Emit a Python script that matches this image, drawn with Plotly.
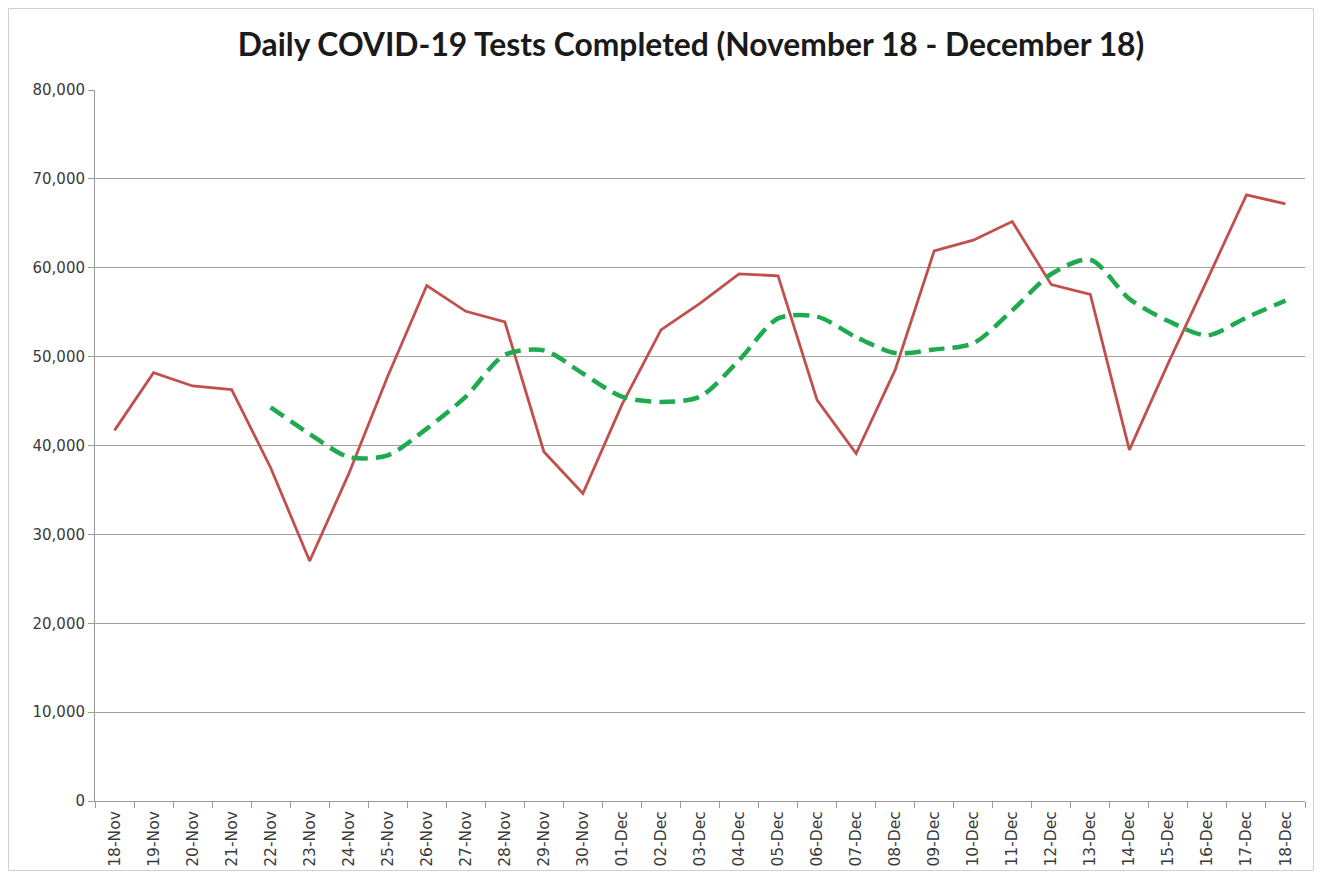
import plotly.graph_objects as go

dates = ["18-Nov", "19-Nov", "20-Nov", "21-Nov", "22-Nov", "23-Nov", "24-Nov", "25-Nov",
         "26-Nov", "27-Nov", "28-Nov", "29-Nov", "30-Nov", "01-Dec", "02-Dec", "03-Dec",
         "04-Dec", "05-Dec", "06-Dec", "07-Dec", "08-Dec", "09-Dec", "10-Dec", "11-Dec",
         "12-Dec", "13-Dec", "14-Dec", "15-Dec", "16-Dec", "17-Dec", "18-Dec"]

daily_tests = [41700, 48200, 46700, 46300, 37500, 27000, 36800, 47800,
               58000, 55100, 53900, 39300, 34600, 44600, 53000, 56000,
               59300, 59100, 45100, 39100, 48500, 61900, 63100, 65200,
               58100, 57000, 39500, 49300, 58700, 68200, 67200]

moving_avg = [None, None, None, None, 44300, 41300, 38700, 38900,
              41900, 45500, 50200, 50700, 48100, 45500, 44900, 45500,
              49600, 54300, 54500, 52200, 50400, 50800, 51500, 55200,
              59300, 60900, 56500, 54000, 52400, 54400, 56300]

y_ticks = [0, 10000, 20000, 30000, 40000, 50000, 60000, 70000, 80000]

TICK_FONT = "DejaVu Sans"
TITLE_FONT = "Lato"

fig = go.Figure()
fig.add_trace(go.Scatter(
    x=dates, y=daily_tests, mode="lines",
    line=dict(color="#C0504D", width=2.8),
    name="Daily tests", hoverinfo="x+y"))
fig.add_trace(go.Scatter(
    x=dates, y=moving_avg, mode="lines",
    line=dict(color="#1FAA4F", width=4.5, dash="16px,8px", shape="spline", smoothing=0.8),
    name="7-day average", connectgaps=False, hoverinfo="x+y"))

# page body has an 8px margin; figure sized to land the plot area where the reference has it
W, H = 1306, 863
ml, mr, mt, mb = 87, 9, 82, 70
pw, ph = W - ml - mr, H - mt - mb

fig.update_layout(
    width=W, height=H,
    margin=dict(l=ml, r=mr, t=mt, b=mb, autoexpand=False),
    paper_bgcolor="white", plot_bgcolor="white",
    showlegend=False,
    font=dict(family=TICK_FONT, color="#404040", size=14),
    title=dict(text="<b>Daily COVID-19 Tests Completed (November 18 - December 18)</b>",
               x=683 / W, xanchor="center", y=1 - 37 / H, yanchor="middle",
               font=dict(family=TITLE_FONT, size=31.8, color="#1a1a1a")),
    xaxis=dict(
        type="category", categoryorder="array", categoryarray=dates,
        range=[-0.5, len(dates) - 0.5],
        tickmode="array", tickvals=dates, ticktext=dates,
        tickangle=-90, tickson="boundaries",
        ticks="outside", ticklen=6, tickcolor="#9a9a9a",
        ticklabelstandoff=3,
        showline=True, linecolor="#9a9a9a", linewidth=1,
        showgrid=False, zeroline=False,
        tickfont=dict(family=TICK_FONT, size=15.5, color="#3a3a3a"),
    ),
    yaxis=dict(
        range=[0, 80000], tickmode="array", tickvals=y_ticks,
        tickformat=",", ticks="outside", ticklen=6, tickcolor="#9a9a9a",
        showline=True, linecolor="#9a9a9a", linewidth=1,
        showgrid=True, gridcolor="#a0a0a0", gridwidth=1,
        zeroline=False,
        tickfont=dict(family=TICK_FONT, size=15, color="#3a3a3a"),
    ),
    shapes=[dict(
        type="rect", xref="paper", yref="paper",
        x0=(0.5 - ml) / pw, x1=(W - 0.5 - ml) / pw,
        y0=-(mb - 0.5) / ph, y1=1 + (mt - 0.5) / ph,
        line=dict(color="#d0d0d0", width=1), fillcolor="rgba(0,0,0,0)", layer="below")],
)

fig.write_html("out.html")
